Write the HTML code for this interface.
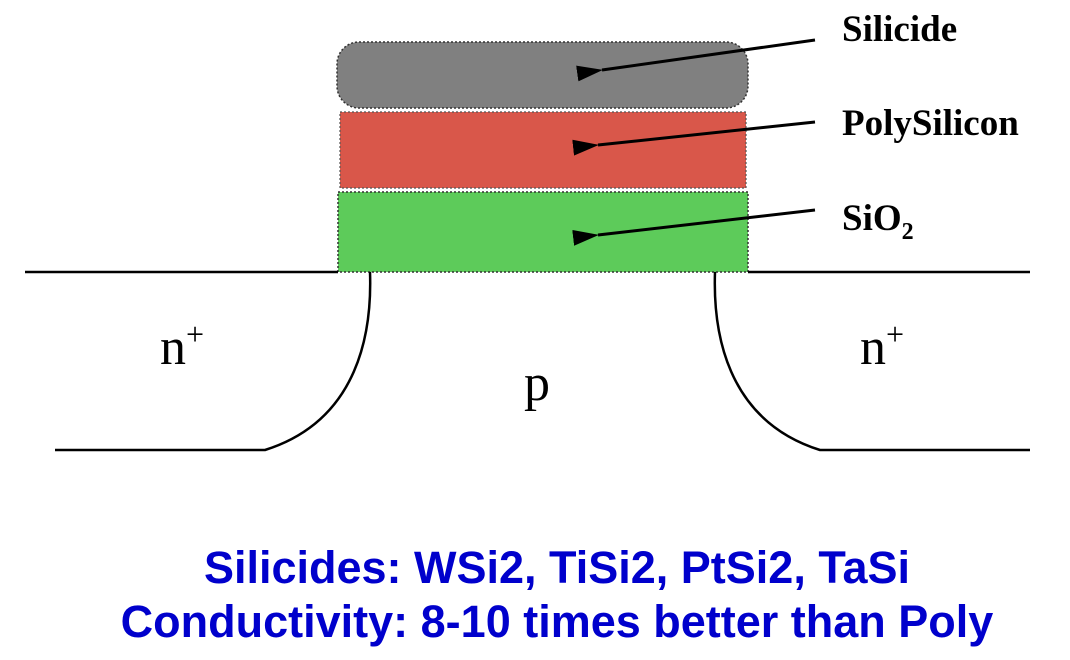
<!DOCTYPE html>
<html><head><meta charset="utf-8">
<style>
html,body{margin:0;padding:0;background:#fff;}
svg{display:block;}
</style></head>
<body>
<svg width="1070" height="660" viewBox="0 0 1070 660" xmlns="http://www.w3.org/2000/svg">
  <defs>
    <marker id="ah" markerWidth="26" markerHeight="16" refX="1" refY="8" orient="auto-start-reverse" markerUnits="userSpaceOnUse">
      <path d="M26,0 L0,8 L26,16 Z" fill="#000"/>
    </marker>
  </defs>
  <g>
    <rect x="337" y="42" width="411" height="66" rx="22" ry="22" fill="#808080" stroke="#333" stroke-width="1.5" stroke-dasharray="2,2"/>
  </g>
  <rect x="340" y="112" width="406" height="76" fill="#D9574A" stroke="#555" stroke-width="1.2" stroke-dasharray="2,2"/>
  <rect x="338" y="192" width="410" height="80" fill="#5DCB5A" stroke="#333" stroke-width="1.5" stroke-dasharray="2,2"/>
  <g stroke="#000" stroke-width="2.5" fill="none">
    <line x1="25" y1="272" x2="338" y2="272"/>
    <line x1="748" y1="272" x2="1030" y2="272"/>
    <path d="M370,272 C372,330 360,420 265,450 L55,450"/>
    <path d="M715,272 C713,330 725,420 820,450 L1030,450"/>
  </g>
  <g stroke="#000" stroke-width="3">
    <line x1="815" y1="40" x2="602" y2="70" marker-end="url(#ah)"/>
    <line x1="815" y1="122" x2="598" y2="145" marker-end="url(#ah)"/>
    <line x1="815" y1="210" x2="598" y2="235" marker-end="url(#ah)"/>
  </g>
  <g font-family="Liberation Serif, serif" font-weight="bold" font-size="37" fill="#000">
    <text x="842" y="41">Silicide</text>
    <text x="842" y="135">PolySilicon</text>
    <text x="842" y="230">SiO<tspan font-size="24" dy="9">2</tspan></text>
  </g>
  <g font-family="Liberation Serif, serif" font-size="52" fill="#000">
    <text x="160" y="364">n<tspan font-size="32" dy="-19">+</tspan></text>
    <text x="860" y="364">n<tspan font-size="32" dy="-19">+</tspan></text>
    <text x="524" y="400">p</text>
  </g>
  <g font-family="Liberation Sans, sans-serif" font-weight="bold" font-size="45" fill="#0000CC" text-anchor="middle">
    <text x="557" y="583">Silicides: WSi2, TiSi2, PtSi2, TaSi</text>
    <text x="557" y="637">Conductivity: 8-10 times better than Poly</text>
  </g>
</svg>
</body></html>
